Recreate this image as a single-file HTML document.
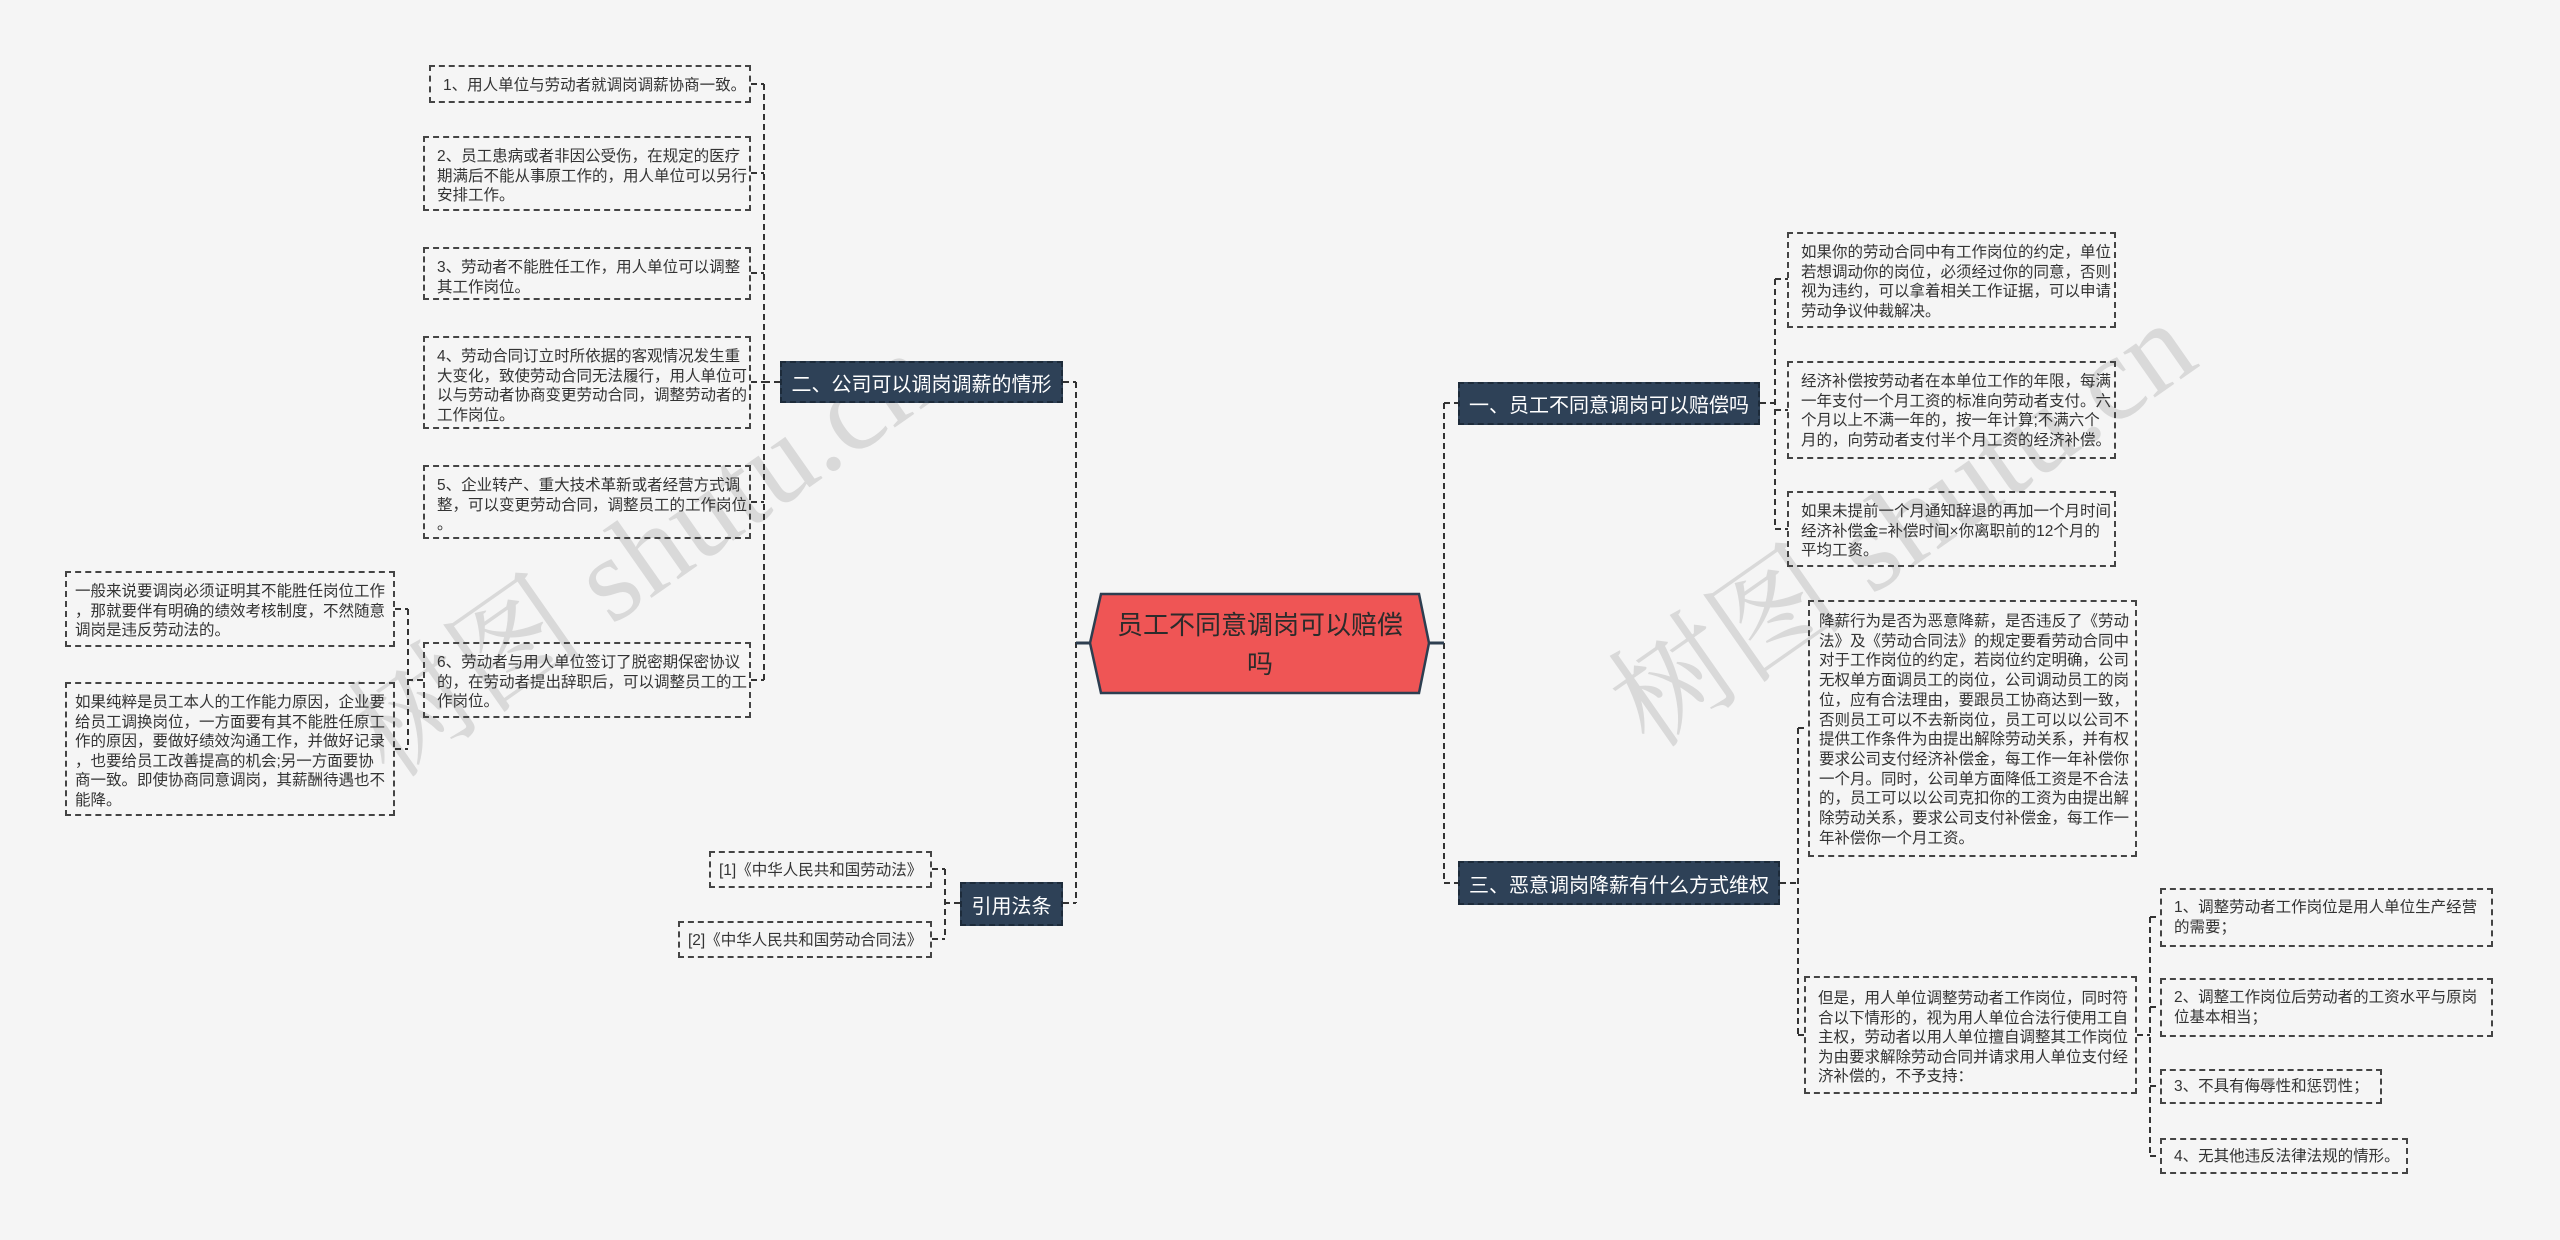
<!DOCTYPE html>
<html><head><meta charset="utf-8"><style>
html,body{margin:0;padding:0}
body{width:2560px;height:1240px;background:#f5f5f5;position:relative;overflow:hidden;font-family:"Liberation Sans","Noto Sans CJK SC",sans-serif}
.b{position:absolute;box-sizing:border-box;border:2px dashed #444;padding:9px 0 0 12px;font-size:15.5px;line-height:19.5px;color:#333;white-space:nowrap}
.n{position:absolute;box-sizing:border-box;background:#2e4157;border:2px dashed #1d2b3a;color:#fff;font-size:20px;display:flex;align-items:center;justify-content:center;white-space:nowrap}
.wm{position:absolute;font-size:120px;color:rgba(120,120,120,0.22);transform:rotate(-35deg);white-space:nowrap;font-family:"Liberation Serif","Noto Serif CJK SC",serif}
svg{position:absolute;left:0;top:0}
</style></head><body>
<div class="wm" style="left:300px;top:460px">树图 shutu.cn</div>
<div class="wm" style="left:1560px;top:430px">树图 shutu.cn</div>
<svg width="2560" height="1240">
<g stroke="#333" stroke-width="2" stroke-dasharray="6,4" fill="none">
<path d="M751 84H764M751 173H764M751 273H764M751 382H764M751 502H764M751 680H764M764 84V680M764 382H780"/>
<path d="M1063 382H1076M1063 903H1076M1076 382V903"/>
<path d="M423 680H408M408 609V749M395 609H408M395 749H408"/>
<path d="M960 903H945M945 869V939M932 869H945M932 939H945"/>
<path d="M1444 403V883M1444 403H1458M1444 883H1458"/>
<path d="M1760 403H1775M1775 279V529M1775 279H1788M1775 410H1788M1775 529H1788"/>
<path d="M1780 883H1798M1798 728V1035M1798 728H1808M1798 1035H1804"/>
<path d="M2137 1035H2150M2150 917V1156M2150 917H2160M2150 1007H2160M2150 1086H2160M2150 1156H2160"/>
</g>
<g stroke="#2d3e50" stroke-width="3"><path d="M1076 643H1091M1429 643H1444"/></g>
<polygon points="1090,643 1101,594 1419,594 1429,643 1419,693 1101,693" fill="#ef5555" stroke="#2d3e50" stroke-width="2.5"/>
<text x="1260" y="634" font-size="26" fill="#2b2b2b" text-anchor="middle" font-family="Liberation Sans, Noto Sans CJK SC, sans-serif">员工不同意调岗可以赔偿</text>
<text x="1260" y="673" font-size="26" fill="#2b2b2b" text-anchor="middle" font-family="Liberation Sans, Noto Sans CJK SC, sans-serif">吗</text>
</svg>

<div class="n" style="left:780px;top:361px;width:283px;height:42px">二、公司可以调岗调薪的情形</div>
<div class="n" style="left:960px;top:882px;width:103px;height:44px">引用法条</div>
<div class="n" style="left:1458px;top:382px;width:302px;height:43px">一、员工不同意调岗可以赔偿吗</div>
<div class="n" style="left:1458px;top:861px;width:322px;height:44px">三、恶意调岗降薪有什么方式维权</div>

<div class="b" style="left:429px;top:65px;width:322px;height:38px">1、用人单位与劳动者就调岗调薪协商一致。</div>
<div class="b" style="left:423px;top:136px;width:328px;height:75px">2、员工患病或者非因公受伤，在规定的医疗<br>期满后不能从事原工作的，用人单位可以另行<br>安排工作。</div>
<div class="b" style="left:423px;top:247px;width:328px;height:53px">3、劳动者不能胜任工作，用人单位可以调整<br>其工作岗位。</div>
<div class="b" style="left:423px;top:336px;width:328px;height:93px">4、劳动合同订立时所依据的客观情况发生重<br>大变化，致使劳动合同无法履行，用人单位可<br>以与劳动者协商变更劳动合同，调整劳动者的<br>工作岗位。</div>
<div class="b" style="left:423px;top:465px;width:328px;height:74px">5、企业转产、重大技术革新或者经营方式调<br>整，可以变更劳动合同，调整员工的工作岗位<br>。</div>
<div class="b" style="left:423px;top:642px;width:328px;height:76px">6、劳动者与用人单位签订了脱密期保密协议<br>的，在劳动者提出辞职后，可以调整员工的工<br>作岗位。</div>
<div class="b" style="left:65px;top:571px;width:330px;height:76px;padding-left:8px">一般来说要调岗必须证明其不能胜任岗位工作<br>，那就要伴有明确的绩效考核制度，不然随意<br>调岗是违反劳动法的。</div>
<div class="b" style="left:65px;top:682px;width:330px;height:134px;padding-left:8px">如果纯粹是员工本人的工作能力原因，企业要<br>给员工调换岗位，一方面要有其不能胜任原工<br>作的原因，要做好绩效沟通工作，并做好记录<br>，也要给员工改善提高的机会;另一方面要协<br>商一致。即使协商同意调岗，其薪酬待遇也不<br>能降。</div>
<div class="b" style="left:709px;top:851px;width:223px;height:37px;padding-top:8px;padding-left:8px">[1]《中华人民共和国劳动法》</div>
<div class="b" style="left:678px;top:921px;width:254px;height:37px;padding-top:8px;padding-left:8px">[2]《中华人民共和国劳动合同法》</div>

<div class="b" style="left:1787px;top:232px;width:329px;height:96px">如果你的劳动合同中有工作岗位的约定，单位<br>若想调动你的岗位，必须经过你的同意，否则<br>视为违约，可以拿着相关工作证据，可以申请<br>劳动争议仲裁解决。</div>
<div class="b" style="left:1787px;top:361px;width:329px;height:98px">经济补偿按劳动者在本单位工作的年限，每满<br>一年支付一个月工资的标准向劳动者支付。六<br>个月以上不满一年的，按一年计算;不满六个<br>月的，向劳动者支付半个月工资的经济补偿。</div>
<div class="b" style="left:1787px;top:491px;width:329px;height:76px">如果未提前一个月通知辞退的再加一个月时间<br>经济补偿金=补偿时间×你离职前的12个月的<br>平均工资。</div>
<div class="b" style="left:1808px;top:600px;width:329px;height:257px;padding-top:10px;line-height:19.7px;padding-left:9px">降薪行为是否为恶意降薪，是否违反了《劳动<br>法》及《劳动合同法》的规定要看劳动合同中<br>对于工作岗位的约定，若岗位约定明确，公司<br>无权单方面调员工的岗位，公司调动员工的岗<br>位，应有合法理由，要跟员工协商达到一致，<br>否则员工可以不去新岗位，员工可以以公司不<br>提供工作条件为由提出解除劳动关系，并有权<br>要求公司支付经济补偿金，每工作一年补偿你<br>一个月。同时，公司单方面降低工资是不合法<br>的，员工可以以公司克扣你的工资为由提出解<br>除劳动关系，要求公司支付补偿金，每工作一<br>年补偿你一个月工资。</div>
<div class="b" style="left:1804px;top:976px;width:333px;height:118px;padding-top:11px">但是，用人单位调整劳动者工作岗位，同时符<br>合以下情形的，视为用人单位合法行使用工自<br>主权，劳动者以用人单位擅自调整其工作岗位<br>为由要求解除劳动合同并请求用人单位支付经<br>济补偿的，不予支持：</div>
<div class="b" style="left:2160px;top:888px;width:333px;height:59px;padding-top:8px">1、调整劳动者工作岗位是用人单位生产经营<br>的需要；</div>
<div class="b" style="left:2160px;top:978px;width:333px;height:59px;padding-top:8px">2、调整工作岗位后劳动者的工资水平与原岗<br>位基本相当；</div>
<div class="b" style="left:2160px;top:1069px;width:222px;height:35px;padding-top:6px">3、不具有侮辱性和惩罚性；</div>
<div class="b" style="left:2160px;top:1138px;width:248px;height:36px;padding-top:7px">4、无其他违反法律法规的情形。</div>
</body></html>
